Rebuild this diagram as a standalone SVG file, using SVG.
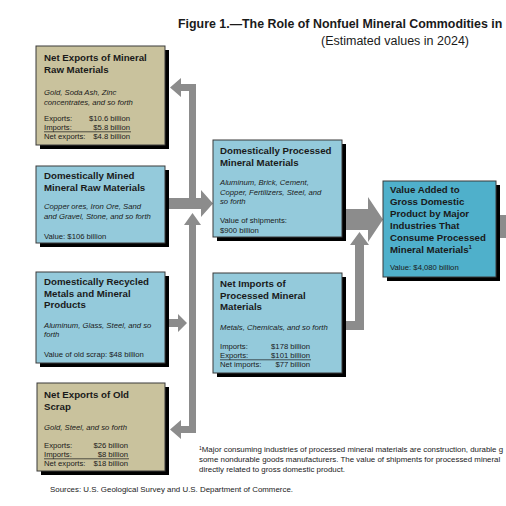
<svg xmlns="http://www.w3.org/2000/svg" width="506" height="506" viewBox="0 0 506 506">
<style>
text{font-family:"Liberation Sans",Arial,sans-serif;fill:#1a1a1a}
.h{font-size:9.7px;font-weight:bold}
.i{font-size:7.7px;font-style:italic}
.v{font-size:7.7px}
.e{text-anchor:end}
.sh{fill:#000}
.tan{fill:#c9c29d;stroke:#3a3a3a;stroke-width:1}
.blu{fill:#94cadb;stroke:#3a3a3a;stroke-width:1}
.dbl{fill:#4fb0cb;stroke:#3a3a3a;stroke-width:1}
.ar{fill:#8c8c8c}
.ul{stroke:#1a1a1a;stroke-width:0.7}
.fn{font-size:7.9px}
</style>
<rect width="506" height="506" fill="#fff"/>
<text x="178" y="28" style="font-size:12.4px;font-weight:bold">Figure 1.—The Role of Nonfuel Mineral Commodities in</text>
<text x="321" y="45" style="font-size:12.5px">(Estimated values in 2024)</text>

<g id="connectors">
<polygon class="ar" points="169,198 201,198 201,190 213,203.5 201,217 201,209 169,209"/>
<polygon class="ar" points="189,198 189,91 181,91 181,97 170,87.5 181,78 181,84 196,84 196,198"/>
<polygon class="ar" points="192.5,213 201,225 196,225 196,433 181,433 181,439 170,429.5 181,420 181,426 189,426 189,225 184,225"/>
<polygon class="ar" points="169,319 178,319 178,314 187,323 178,332 178,327 169,327"/>
<polygon class="ar" points="346,321 355,321 355,245 350,245 359.5,232 369,245 364,245 364,330 346,330"/>
<polygon class="ar" points="346,209 368,209 368,197 383,219.5 368,242 368,230 346,230"/>
<rect class="ar" x="500" y="215" width="6" height="23"/>
</g>

<g id="net-exports-raw">
<rect class="sh" x="40" y="50" width="129" height="99"/>
<rect class="tan" x="36" y="46" width="129" height="99"/>
<text class="h" x="44" y="61">Net Exports of Mineral</text>
<text class="h" x="44" y="73">Raw Materials</text>
<text class="i" x="44" y="95">Gold, Soda Ash, Zinc</text>
<text class="i" x="44" y="105">concentrates, and so forth</text>
<text class="v" x="44" y="121">Exports:</text>
<text class="v e" x="130" y="121">$10.6 billion</text>
<text class="v" x="44" y="130">Imports:</text>
<text class="v e" x="130" y="130">$5.8 billion</text>
<line class="ul" x1="44" y1="131.8" x2="131" y2="131.8"/>
<text class="v" x="44" y="139">Net exports:</text>
<text class="v e" x="130" y="139">$4.8 billion</text>
</g>

<g id="domestically-mined">
<rect class="sh" x="40" y="170" width="129" height="77"/>
<rect class="blu" x="36" y="166" width="129" height="77"/>
<text class="h" x="44" y="179">Domestically Mined</text>
<text class="h" x="44" y="191">Mineral Raw Materials</text>
<text class="i" x="44" y="209">Copper ores, Iron Ore, Sand</text>
<text class="i" x="44" y="219">and Gravel, Stone, and so forth</text>
<text class="v" x="44" y="239">Value:  $106 billion</text>
</g>

<g id="domestically-recycled">
<rect class="sh" x="40" y="276" width="129" height="91"/>
<rect class="blu" x="36" y="272" width="129" height="91"/>
<text class="h" x="44" y="285">Domestically Recycled</text>
<text class="h" x="44" y="296.5">Metals and Mineral</text>
<text class="h" x="44" y="308">Products</text>
<text class="i" x="44" y="328">Aluminum, Glass, Steel, and so</text>
<text class="i" x="44" y="337">forth</text>
<text class="v" x="44" y="357">Value of old scrap:  $48 billion</text>
</g>

<g id="net-exports-scrap">
<rect class="sh" x="41" y="387" width="128" height="88"/>
<rect class="tan" x="37" y="383" width="128" height="88"/>
<text class="h" x="44" y="398">Net Exports of Old</text>
<text class="h" x="44" y="409.5">Scrap</text>
<text class="i" x="44" y="430">Gold, Steel, and so forth</text>
<text class="v" x="44" y="448">Exports:</text>
<text class="v e" x="128" y="448">$26 billion</text>
<text class="v" x="44" y="457">Imports:</text>
<text class="v e" x="128" y="457">$8 billion</text>
<line class="ul" x1="44" y1="458.8" x2="129" y2="458.8"/>
<text class="v" x="44" y="466">Net exports:</text>
<text class="v e" x="128" y="466">$18 billion</text>
</g>

<g id="domestically-processed">
<rect class="sh" x="217" y="144" width="129" height="97"/>
<rect class="blu" x="213" y="140" width="129" height="97"/>
<text class="h" x="220" y="154">Domestically Processed</text>
<text class="h" x="220" y="166">Mineral Materials</text>
<text class="i" x="220" y="185">Aluminum, Brick, Cement,</text>
<text class="i" x="220" y="194.5">Copper, Fertilizers, Steel, and</text>
<text class="i" x="220" y="204">so forth</text>
<text class="v" x="220" y="223">Value of shipments:</text>
<text class="v" x="220" y="233">$900 billion</text>
</g>

<g id="net-imports-processed">
<rect class="sh" x="217" y="277" width="129" height="100"/>
<rect class="blu" x="213" y="273" width="129" height="100"/>
<text class="h" x="220" y="287">Net Imports of</text>
<text class="h" x="220" y="298.5">Processed Mineral</text>
<text class="h" x="220" y="310">Materials</text>
<text class="i" x="220" y="330">Metals, Chemicals, and so forth</text>
<text class="v" x="220" y="349">Imports:</text>
<text class="v e" x="310" y="349">$178 billion</text>
<text class="v" x="220" y="358">Exports:</text>
<text class="v e" x="310" y="358">$101 billion</text>
<line class="ul" x1="220" y1="359.8" x2="311" y2="359.8"/>
<text class="v" x="220" y="367">Net imports:</text>
<text class="v e" x="310" y="367">$77 billion</text>
</g>

<g id="value-added">
<rect class="sh" x="387" y="185" width="113" height="96"/>
<rect class="dbl" x="383" y="181" width="113" height="96"/>
<text class="h" x="390" y="193">Value Added to</text>
<text class="h" x="390" y="205">Gross Domestic</text>
<text class="h" x="390" y="217">Product by Major</text>
<text class="h" x="390" y="229">Industries That</text>
<text class="h" x="390" y="241">Consume Processed</text>
<text class="h" x="390" y="253">Mineral Materials<tspan style="font-size:6px" dy="-4">1</tspan></text>
<text class="v" x="390" y="270">Value:  $4,080 billion</text>
</g>

<g id="footnotes">
<text class="fn" x="199" y="452"><tspan style="font-size:5px" dy="-2.5">1</tspan><tspan dy="2.5">Major consuming industries of processed mineral materials are construction, durable g</tspan></text>
<text class="fn" x="199" y="462">some nondurable goods manufacturers. The value of shipments for processed mineral</text>
<text class="fn" x="199" y="472">directly related to gross domestic product.</text>
<text class="fn" x="50" y="492">Sources: U.S. Geological Survey and U.S. Department of Commerce.</text>
</g>
</svg>
